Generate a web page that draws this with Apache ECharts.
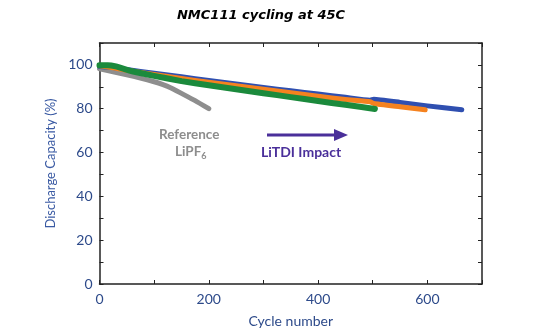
<!DOCTYPE html>
<html><head><meta charset="utf-8">
<script src="https://cdn.jsdelivr.net/npm/echarts@6/dist/echarts.min.js"></script>
<style>html,body{margin:0;padding:0;background:#fff}#c{width:539px;height:333px}</style>
</head><body><div id="c"></div>
<script>
const title = 'NMC111 cycling at 45C';
const xTickLabels = [0, 200, 400, 600];
const yTickLabels = [0, 20, 40, 60, 80, 100];

const refCycles = [0, 25, 50, 75, 100, 115, 130, 150, 175, 200];
const refValues = [98.2, 96.9, 95.5, 94.0, 92.3, 91.1, 89.6, 87.0, 83.7, 80.0];

const blueCycles = [0, 25, 50, 100, 150, 200, 250, 300, 350, 400, 450, 495, 502, 550, 600, 663];
const blueValues = [99.3, 98.8, 97.9, 96.2, 94.6, 92.9, 91.3, 89.7, 88.2, 86.7, 85.2, 83.9, 84.3, 82.9, 81.3, 79.5];

const orangeCycles = [0, 25, 50, 100, 150, 200, 250, 300, 350, 400, 450, 495, 502, 550, 596];
const orangeValues = [99.6, 98.7, 97.6, 95.6, 93.8, 92.1, 90.5, 88.9, 87.3, 85.7, 84.2, 83.2, 82.4, 80.9, 79.5];

const greenCycles = [0, 15, 30, 60, 100, 150, 200, 250, 300, 350, 400, 450, 504];
const greenValues = [99.8, 99.9, 99.3, 97.1, 95.0, 92.6, 90.7, 88.9, 87.1, 85.3, 83.5, 81.8, 79.9];

const zip = (a, b) => a.map((v, i) => [v, b[i]]);

const axisCol = '#2d4a8a';
const chart = echarts.init(document.getElementById('c'));
const mk = (name, cx, cy, color, width, z) => ({
  name, type: 'line', data: zip(cx, cy), showSymbol: false, smooth: 0.15, z,
  lineStyle: { color, width, cap: 'round', join: 'round' }
});
const frameLine = { show: true, onZero: false, lineStyle: { color: '#222', width: 1.5 } };
const frameTick = { show: true, inside: true, length: 4, lineStyle: { color: '#222' } };
chart.setOption({
  animation: false,
  title: { text: title, left: 256, top: 4, textAlign: 'center',
    textStyle: { fontFamily: 'DejaVu Sans', fontStyle: 'italic', fontWeight: 'bold', fontSize: 13, color: '#000' } },
  grid: { left: 99.5, right: 57, top: 43, bottom: 47 },
  xAxis: [{
    type: 'value', min: 0, max: 700, interval: 100,
    name: 'Cycle number', nameLocation: 'middle', nameGap: 30,
    nameTextStyle: { color: axisCol, fontFamily: 'Lato', fontSize: 14 },
    axisLine: frameLine, axisTick: frameTick,
    axisLabel: { color: axisCol, fontFamily: 'Lato', fontSize: 14, margin: 8,
      formatter: v => xTickLabels.includes(v) ? String(v) : '' },
    splitLine: { show: false }
  }, {
    type: 'value', position: 'top', min: 0, max: 700, interval: 100,
    axisLine: frameLine, axisTick: frameTick,
    axisLabel: { show: false }, splitLine: { show: false }
  }],
  yAxis: [{
    type: 'value', min: 0, max: 110, interval: 10,
    name: 'Discharge Capacity (%)', nameLocation: 'middle', nameGap: 42,
    nameTextStyle: { color: '#3a5aa3', fontFamily: 'Lato', fontSize: 13 },
    axisLine: frameLine, axisTick: frameTick,
    axisLabel: { color: axisCol, fontFamily: 'Lato', fontSize: 14, margin: 7,
      formatter: v => yTickLabels.includes(v) ? String(v) : '' },
    splitLine: { show: false }
  }, {
    type: 'value', position: 'right', min: 0, max: 110, interval: 10,
    axisLine: frameLine, axisTick: frameTick,
    axisLabel: { show: false }, splitLine: { show: false }
  }],
  series: [
    mk('Reference LiPF6', refCycles, refValues, '#8e8e8e', 5, 2),
    mk('Blue', blueCycles, blueValues, '#2f4fb0', 5, 3),
    mk('Orange', orangeCycles, orangeValues, '#f5821f', 5, 4),
    mk('Green', greenCycles, greenValues, '#1b8a3c', 6, 5)
  ],
  graphic: [
    { type: 'text', left: 159, top: 128, style: { text: 'Reference', fill: '#8d8d8d', font: 'bold 13.5px Lato' } },
    { type: 'text', left: 175, top: 145, style: {
      text: 'LiPF{s|6}', fill: '#8d8d8d', font: 'bold 13.5px Lato',
      rich: { s: { fontSize: 9, fontWeight: 'bold', fontFamily: 'Lato', fill: '#8d8d8d', verticalAlign: 'bottom', padding: [8, 0, 0, 0] } } } },
    { type: 'text', left: 261, top: 145, style: { text: 'LiTDI Impact', fill: '#4a2f9a', font: 'bold 14px Lato' } },
    { type: 'line', shape: { x1: 267, y1: 135, x2: 336, y2: 135 }, style: { stroke: '#4a2f9a', lineWidth: 3 } },
    { type: 'polygon', shape: { points: [[334, 129], [348, 135], [334, 141]] }, style: { fill: '#4a2f9a' } }
  ]
});
</script></body></html>
